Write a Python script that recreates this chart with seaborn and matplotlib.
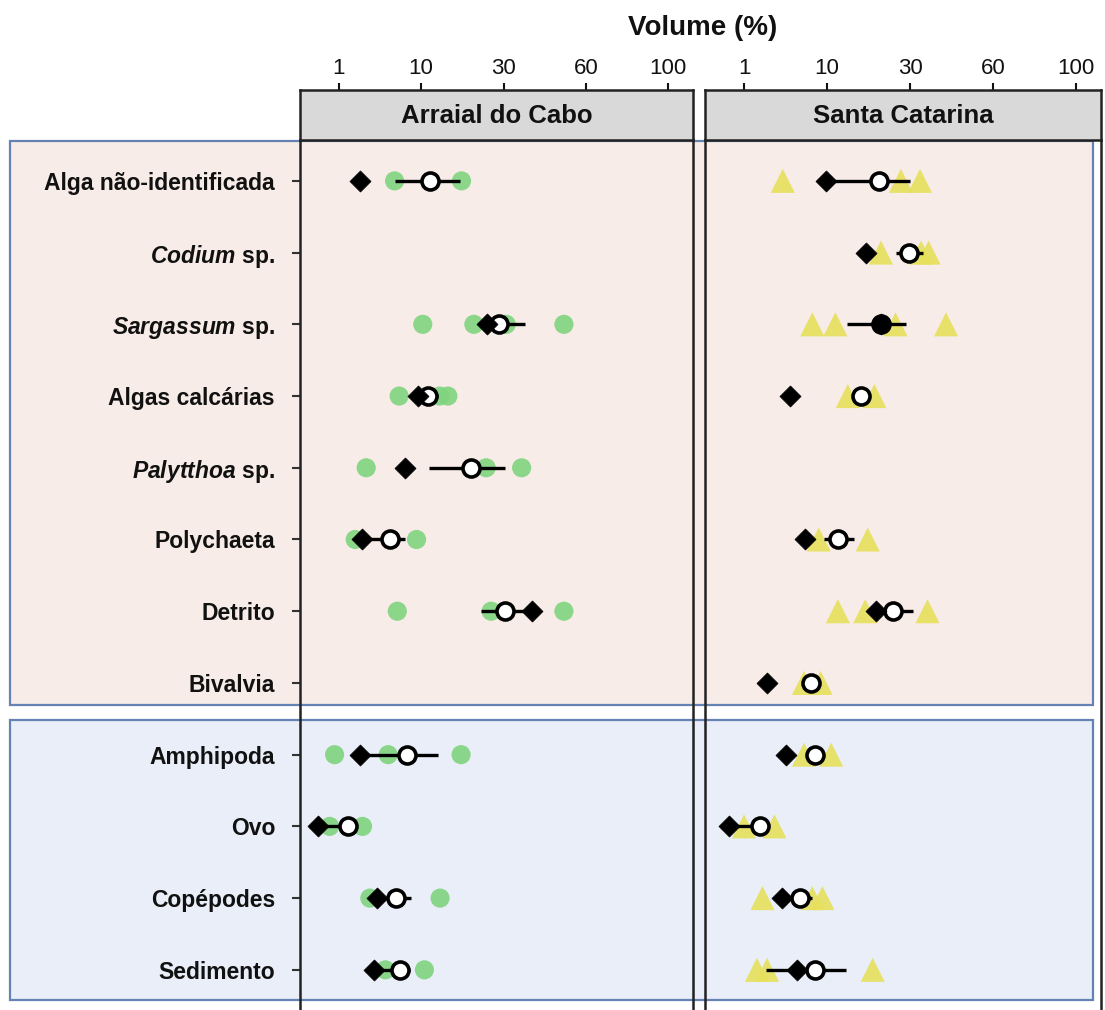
import numpy as np
import pandas as pd
import seaborn as sns
import matplotlib.pyplot as plt
from matplotlib.patches import Rectangle

sns.set_style("white")
plt.rcParams['font.family'] = ['Liberation Sans', 'DejaVu Sans']
plt.rcParams['mathtext.fontset'] = 'custom'
plt.rcParams['mathtext.it'] = 'Liberation Sans:italic:bold'
plt.rcParams['mathtext.rm'] = 'Liberation Sans:bold'
for key in ['text.color', 'axes.labelcolor', 'xtick.color', 'ytick.color']:
    plt.rcParams[key] = '#111111'

# categories (top to bottom)
categories = ["Alga não-identificada", "$Codium$ sp.", "$Sargassum$ sp.", "Algas calcárias",
              "$Palytthoa$ sp.", "Polychaeta", "Detrito", "Bivalvia",
              "Amphipoda", "Ovo", "Copépodes", "Sedimento"]
sites = ["Arraial do Cabo", "Santa Catarina"]
tick_values = [1, 10, 30, 60, 100]

# Arraial do Cabo
ac_points = [[7.1, 19.8], [], [10.4, 22.8, 31, 52], [7.6, 14.5, 16.5],
             [4.0, 25.8, 36.6], [2.8, 9.5], [7.4, 27, 52], [],
             [0.9, 6.4, 19.7], [0.78, 3.6], [4.4, 14.6], [6.1, 10.8]]
ac_diamond = [3.3, np.nan, 26, 9.7, 8.2, 3.5, 40.5, np.nan, 3.3, 0.5, 5.2, 4.8]
ac_mean = [12.2, np.nan, 29, 11.6, 22, 6.6, 30.4, np.nan, 8.5, 2.0, 7.3, 7.7]
ac_low = [7.2, np.nan, 24.4, 10.2, 11.9, 4.0, 24.6, np.nan, 3.5, 0.5, 5.5, 5.0]
ac_high = [19.5, np.nan, 38, 14, 30.5, 8.2, 40, np.nan, 14, 3.0, 8.9, 8.8]

# Santa Catarina
sc_points = [[5.2, 27.8, 33.6], [23, 34, 36.7], [8.4, 12, 26.5, 43], [15, 21.4],
             [], [9.1, 19.8], [12.6, 19.2, 36.3], [7.5, 9.3],
             [7.5, 11], [1.0, 4.3], [3.0, 8.4, 9.5], [2.4, 3.5, 21]]
sc_diamond = [9.9, 19.4, 23, 6.0, np.nan, 7.6, 21.8, 3.5, 5.6, 0.64, 5.1, 6.7]
sc_mean = [22.5, 29.8, 23, 18.2, np.nan, 12.6, 25.8, 8.3, 8.7, 2.7, 7.1, 8.7]
sc_low = [9.9, 26.5, 14.7, np.nan, np.nan, 9.7, 23.8, np.nan, np.nan, 0.64, 5.7, 3.4]
sc_high = [30, 34.7, 29, np.nan, np.nan, 16.4, 31, np.nan, np.nan, 3.6, 8.4, 14.6]

# axis: tick labels equally spaced
scale_vals = [0, 1, 10, 30, 60, 100, 140]
scale_pos = [-0.5, 0, 1, 2, 3, 4, 5]
fwd = lambda v: np.interp(v, scale_vals, scale_pos)
inv = lambda p: np.interp(p, scale_pos, scale_vals)

W, H = 1105, 1010
def rect(x0, y0, x1, y1):
    return [x0 / W, 1 - y1 / H, (x1 - x0) / W, (y1 - y0) / H]

fig = plt.figure(figsize=(W / 100, H / 100), dpi=100)

# coloured group boxes behind everything
fig.add_artist(Rectangle((10 / W, 1 - 705 / H), 1083 / W, 564 / H, transform=fig.transFigure,
                         facecolor="#f7ece7", edgecolor="#6483b4", lw=1.6, zorder=-5))
fig.add_artist(Rectangle((10 / W, 1 - 1000 / H), 1083 / W, 280 / H, transform=fig.transFigure,
                         facecolor="#e9eef8", edgecolor="#6483b4", lw=1.6, zorder=-5))

panels = [
    (sites[0], ac_points, ac_diamond, ac_mean, ac_low, ac_high, (300, 693), "#7fd47f", "o", 190),
    (sites[1], sc_points, sc_diamond, sc_mean, sc_low, sc_high, (705, 1101), "#e6e05c", "^", 300),
]

for i, (site, pts, diam, mean, lo, hi, (x0, x1), pcol, pmark, psize) in enumerate(panels):
    ax = fig.add_axes(rect(x0, 140, x1, 1010))
    hx = fig.add_axes(rect(x0, 90, x1, 140), sharex=ax)
    ax.set_facecolor("none")
    ax.set_xscale("function", functions=(fwd, inv))

    rows = np.arange(len(categories))
    pdf = pd.DataFrame([(r, v) for r, vs in enumerate(pts) for v in vs], columns=["row", "volume"])
    sdf = pd.DataFrame({"row": rows, "diamond": diam, "mean": mean, "low": lo, "high": hi})

    sns.scatterplot(data=pdf, x="volume", y="row", ax=ax, color=pcol, marker=pmark, s=psize,
                    edgecolor="none", alpha=0.9, legend=False, zorder=2)
    bars = sdf.dropna(subset=["low", "high"])
    ax.hlines(bars["row"], bars["low"], bars["high"], color="black", lw=2.4, zorder=3)
    sns.scatterplot(data=sdf, x="mean", y="row", ax=ax, marker="o", s=150, color="white",
                    edgecolor="black", linewidth=2.6, legend=False, zorder=4)
    sns.scatterplot(data=sdf, x="diamond", y="row", ax=ax, marker="D", s=115, color="black",
                    edgecolor="black", linewidth=0.5, legend=False, zorder=5)

    ax.set_xlim(0.06, 112)
    ax.set_ylim(11.56, -0.57)
    ax.set_xlabel("")
    ax.set_ylabel("")
    ax.tick_params(axis="x", bottom=False, labelbottom=False)
    for side in ["top", "bottom"]:
        ax.spines[side].set_visible(False)
    for side in ["left", "right"]:
        ax.spines[side].set_color("#222222")
        ax.spines[side].set_linewidth(1.8)
    if i == 0:
        ax.set_yticks(rows, categories, fontsize=16.5, fontweight="bold")
        ax.tick_params(axis="y", left=True, length=6, width=1.5, color="#333333", pad=12)
    else:
        ax.tick_params(axis="y", left=False, labelleft=False)

    hx.set_facecolor("#d9d9d9")
    hx.set_yticks([])
    hx.xaxis.tick_top()
    hx.set_xticks(tick_values, [str(t) for t in tick_values])
    hx.tick_params(axis="x", top=True, length=5, width=1.5, labelsize=16, pad=3)
    for side in hx.spines:
        hx.spines[side].set_color("#222222")
        hx.spines[side].set_linewidth(1.8)
    hx.text(0.5, 0.48, site, transform=hx.transAxes, ha="center", va="center",
            fontsize=18.5, fontweight="bold")

fig.text(703 / W, 1 - 28 / H, "Volume (%)", ha="center", va="center", fontsize=20, fontweight="bold")

plt.savefig("out.png", dpi=100)
plt.close()
